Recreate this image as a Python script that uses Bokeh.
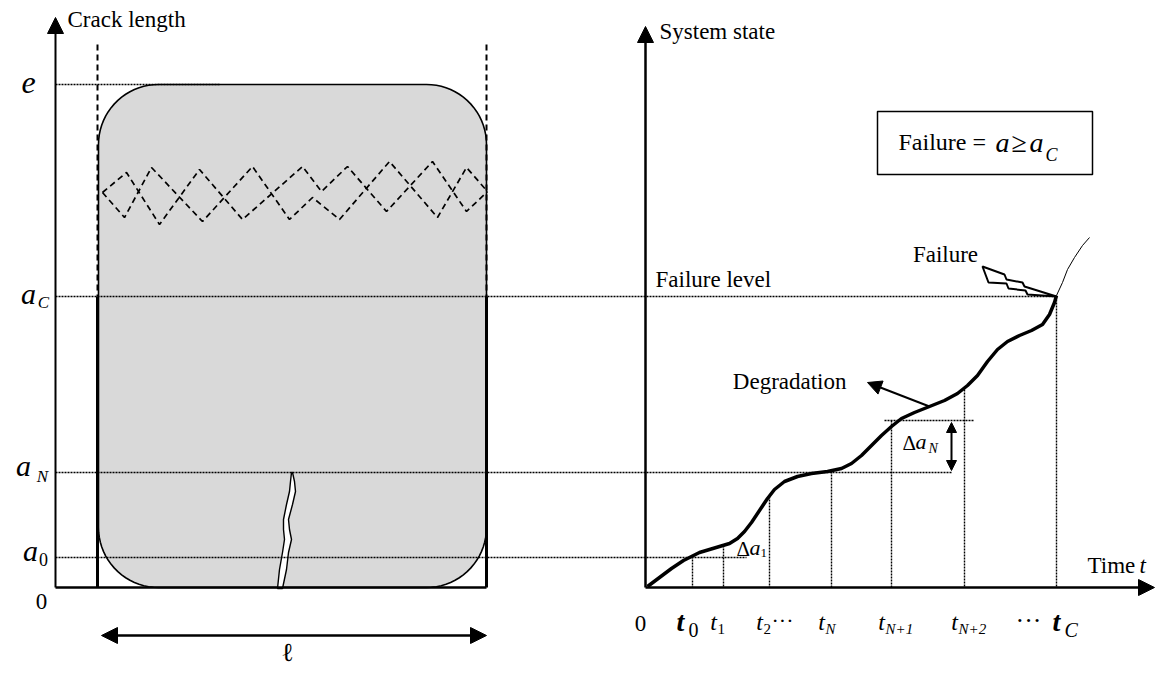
import numpy as np
from bokeh.plotting import figure
from bokeh.models import Range1d, Arrow, NormalHead
from bokeh.core.properties import value
from bokeh.embed import file_html
from bokeh.resources import INLINE

# ---------------- shared levels (crack length / system state) ----------------
lvl_e = 85
lvl_aC = 297
lvl_aN = 473
lvl_a0 = 558
lvl_zero = 588

# ---------------- left panel: plate with crack ----------------
left_axis_x = 56
left_axis_top = 18
plate_left, plate_right = 99, 487
plate_radius = 60
guide_top = 45
e_line_end = 220
ell_arrow = [102, 487]
ell_y = 636

crack_y = [473, 482, 492, 505, 520, 530, 540, 553, 570, 589]
crack_left_x = [292, 291, 290, 287, 284, 284, 285, 283, 280, 278]
crack_right_x = [293, 295, 296, 293, 289, 290, 292, 289, 287, 283]

zig1_x = [103, 125, 152, 203, 253, 290, 313, 340, 390, 438, 467, 488]
zig1_y = [193, 218, 168, 222, 167, 220, 198, 220, 162, 218, 168, 192]
zig2_x = [103, 127, 160, 200, 243, 303, 322, 348, 387, 433, 467, 488]
zig2_y = [193, 173, 225, 170, 220, 167, 192, 167, 212, 162, 212, 192]

# ---------------- right panel: degradation path ----------------
right_axis_x = 646
right_axis_top = 27
time_axis_end = 1155
curve_x = [648, 660, 672, 684, 692, 700, 710, 720, 730, 738, 745, 752, 760, 768, 775,
           785, 798, 812, 828, 842, 852, 862, 872, 882, 892, 902, 915, 930, 945, 958,
           968, 978, 988, 998, 1008, 1020, 1032, 1043, 1050, 1055, 1057]
curve_y = [587, 578, 569, 561, 557, 553, 550, 547, 544, 539, 532, 523, 511, 499, 490,
           482, 477, 474, 472, 469, 464, 456, 446, 436, 427, 419, 413, 407, 401, 394,
           386, 376, 362, 350, 342, 336, 331, 325, 315, 303, 296]
after_x = [1057, 1063, 1068, 1075, 1083, 1090]
after_y = [296, 283, 270, 258, 246, 238]

tick_x = [693, 724, 770, 832, 892, 965, 1057]
tick_top = [557, 546, 497, 472, 421, 390, 297]
tick_sub = ["0", "1", "2", "N", "N+1", "N+2", "C"]

level_line_end = {"aC": 1057, "aN": 953, "a0": 747}
dN_line = [885, 975, 421]
dN_arrow_x = 952

bolt_x = [983, 1005, 1007, 1023, 1025, 1057, 1028, 1026, 1009, 1007, 989]
bolt_y = [267, 275, 280, 283, 287, 297, 295, 291, 289, 284, 283]

degr_arrow = [930, 407, 868, 383]
box = [878, 1093, 112, 175]

FONT = value("'Liberation Serif', 'Times New Roman', serif")
FONT_ELL = value("'DejaVu Serif', serif")

p = figure(width=1156, height=666, x_range=Range1d(1, 1157), y_range=Range1d(667, 1),
           output_backend="svg", toolbar_location=None, min_border=0)
p.axis.visible = False
p.grid.visible = False
p.outline_line_color = None
p.background_fill_color = "white"

# plate (rounded rectangle)
r = plate_radius
corners = [(plate_right - r, lvl_e + r, -90, 0), (plate_right - r, lvl_zero - r, 0, 90),
           (plate_left + r, lvl_zero - r, 90, 180), (plate_left + r, lvl_e + r, 180, 270)]
px, py = [], []
for cx, cy, a0, a1 in corners:
    t = np.radians(np.linspace(a0, a1, 20))
    px += list(cx + r * np.cos(t))
    py += list(cy + r * np.sin(t))
p.patch(px, py, fill_color="#d9d9d9", line_color="black", line_width=1.6)

# zigzag dashed lines
p.line(zig1_x, zig1_y, line_color="black", line_width=1.7, line_dash="6 4")
p.line(zig2_x, zig2_y, line_color="black", line_width=1.7, line_dash="6 4")

# crack
p.patch(crack_left_x + crack_right_x[::-1], crack_y + crack_y[::-1],
        fill_color="white", line_color="black", line_width=1.4)

# plate side guides
for gx in (plate_left - 1, plate_right):
    p.line([gx, gx], [guide_top, lvl_aC], line_color="black", line_width=2, line_dash="6 4")
    p.line([gx, gx], [lvl_aC, lvl_zero], line_color="black", line_width=3)

# level dotted lines
dot = dict(line_color="black", line_width=1.4, line_dash="2 1")
p.line([left_axis_x, e_line_end], [lvl_e, lvl_e], **dot)
p.line([left_axis_x, level_line_end["aC"]], [lvl_aC, lvl_aC], **dot)
p.line([left_axis_x, level_line_end["aN"]], [lvl_aN, lvl_aN], **dot)
p.line([left_axis_x, level_line_end["a0"]], [lvl_a0, lvl_a0], **dot)
p.line(dN_line[:2], [dN_line[2], dN_line[2]], **dot)
p.segment(x0=tick_x, y0=tick_top, x1=tick_x, y1=[lvl_zero] * len(tick_x), **dot)

# axes
p.line([left_axis_x, plate_right], [lvl_zero, lvl_zero], line_color="black", line_width=2.5)
head = lambda s: NormalHead(size=s, fill_color="black", line_color="black")
p.add_layout(Arrow(end=head(16), x_start=left_axis_x, y_start=lvl_zero,
                   x_end=left_axis_x, y_end=left_axis_top, line_width=2))
p.add_layout(Arrow(end=head(16), x_start=right_axis_x, y_start=lvl_zero,
                   x_end=right_axis_x, y_end=right_axis_top, line_width=2.5))
p.add_layout(Arrow(end=head(16), x_start=right_axis_x, y_start=lvl_zero,
                   x_end=time_axis_end, y_end=lvl_zero, line_width=2.5))

# ell double arrow
p.add_layout(Arrow(start=head(16), end=head(16), x_start=ell_arrow[0], y_start=ell_y,
                   x_end=ell_arrow[1], y_end=ell_y, line_width=2.5))

# degradation curve
p.line(curve_x, curve_y, line_color="black", line_width=3.5, line_join="round")
p.line(after_x, after_y, line_color="black", line_width=1)

# delta a_N arrow
p.add_layout(Arrow(start=head(10), end=head(10), x_start=dN_arrow_x, y_start=lvl_aN - 2,
                   x_end=dN_arrow_x, y_end=dN_line[2] + 2, line_width=2))

# degradation pointer
p.add_layout(Arrow(end=head(14), x_start=degr_arrow[0], y_start=degr_arrow[1],
                   x_end=degr_arrow[2], y_end=degr_arrow[3], line_width=2))

# lightning bolt
p.patch(bolt_x, bolt_y, fill_color="white", line_color="black", line_width=2)

# failure box
p.quad(left=box[0], right=box[1], top=box[2], bottom=box[3], fill_color=None,
       line_color="black", line_width=1.5)


def label(x, y, txt, size, style="normal", align="left", font=FONT):
    p.text(x=[x], y=[y], text=[txt], text_font=font, text_font_size=f"{size}px",
           text_font_style=style, text_align=align, text_baseline="middle", text_color="black")


label(68, 20, "Crack length", 23)
label(660, 32, "System state", 23)
label(656, 280, "Failure level", 23)
label(847, 382, "Degradation", 23, align="right")
label(946, 255, "Failure", 23, align="center")
label(1088, 566, "Time", 23)
label(1140, 566, "t", 23, "italic")

# left level labels
label(29, 83, "e", 32, "italic", "center")
label(29, 294, "a", 30, "italic", "center")
label(44, 303, "C", 17, "italic", "center")
label(24, 466, "a", 30, "italic", "center")
label(43, 477, "N", 17, "italic", "center")
label(31, 551, "a", 30, "italic", "center")
label(44, 560, "0", 18, "normal", "center")
label(42, 602, "0", 23, "normal", "center")
label(288, 652, "\u2113", 26, "normal", "center", FONT_ELL)

# time labels
label(641, 624, "0", 23, "normal", "center")
big_t = {0: 681, 6: 1057}
for i, (tx, sub) in enumerate(zip(tick_x, tick_sub)):
    if i in big_t:
        label(big_t[i], 622, "t", 28, "bold italic", "center")
        label(big_t[i] + 8, 630, sub, 20, "italic" if sub == "C" else "normal")
    else:
        sx = tx - 6
        label(sx - 4, 622, "t", 24, "italic", "center")
        label(sx, 629, sub, 15, "italic" if "N" in sub else "normal")
label(772, 621, "\u00b7\u00b7\u00b7", 22)
label(1016, 621, "\u00b7\u00b7\u00b7", 26)

# delta labels
label(737, 549, "\u0394", 21)
label(750, 548, "a", 22, "italic")
label(761, 553, "1", 13)
label(903, 443, "\u0394", 21)
label(916, 442, "a", 22, "italic")
label(929, 449, "N", 14, "italic")

# failure box text
label(899, 142, "Failure =", 24)
label(996, 143, "a", 28, "italic")
label(1012, 143, "\u2265", 28)
label(1030, 143, "a", 28, "italic")
label(1046, 155, "C", 18, "italic")

open("out.html", "w").write(file_html(p, INLINE))
